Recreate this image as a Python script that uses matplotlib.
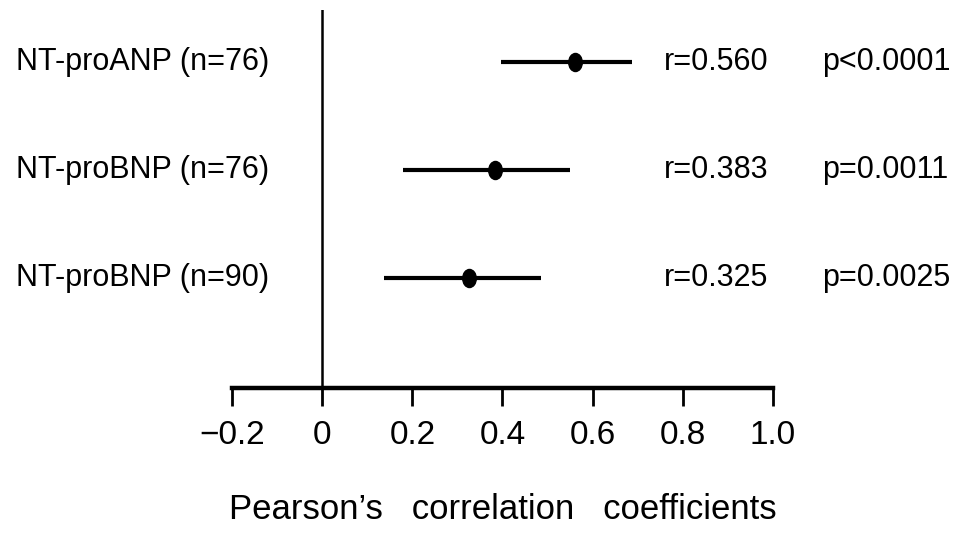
import matplotlib.pyplot as plt
from matplotlib.path import Path
from matplotlib.transforms import Affine2D

plt.rcParams['font.family'] = ['Liberation Sans', 'DejaVu Sans']

# Correlation estimates with 95% CI
labels = ["NT-proANP (n=76)", "NT-proBNP (n=76)", "NT-proBNP (n=90)"]
r_vals = [0.560, 0.383, 0.325]
ci_lo = [0.396, 0.180, 0.137]
ci_hi = [0.688, 0.550, 0.486]
p_text = ["p<0.0001", "p=0.0011", "p=0.0025"]
rows = [3, 2, 1]
xticks = [-0.2, 0, 0.2, 0.4, 0.6, 0.8, 1.0]
xtick_labels = ["\u22120.2", "0", "0.2", "0.4", "0.6", "0.8", "1.0"]

W, H = 954, 534
fig = plt.figure(figsize=(W / 100, H / 100), dpi=100, facecolor="white")
ax = fig.add_axes([232 / W, 1 - 388 / H, 541 / W, 378 / H])
ax.set_xlim(-0.2, 1.0)
ax.set_ylim(-0.02, 3.48)

# slightly tall dot
dot = Path.unit_circle().transformed(Affine2D().scale(0.75, 1.0))

ax.axvline(0, color="black", lw=1.8)
for y, lab, r, lo, hi, p in zip(rows, labels, r_vals, ci_lo, ci_hi, p_text):
    ax.plot([lo, hi], [y, y], color="black", lw=3, solid_capstyle="butt")
    ax.plot(r, y, marker=dot, ms=13, color="black")
    ax.text(-0.68, y, lab, fontsize=22, va="center", ha="left", clip_on=False)
    ax.text(0.757, y, f"r={r:.3f}", fontsize=22, va="center", ha="left", clip_on=False)
    ax.text(1.108, y, p, fontsize=22, va="center", ha="left", clip_on=False)

for s in ["top", "right", "left"]:
    ax.spines[s].set_visible(False)
ax.spines["bottom"].set_linewidth(3.2)
ax.set_yticks([])
ax.set_xticks(xticks)
ax.set_xticklabels(xtick_labels, fontsize=24)
ax.tick_params(axis="x", direction="out", length=13, width=2, pad=10)

ax.set_xlabel("Pearson\u2019s   correlation   coefficients", fontsize=25,
              labelpad=30)

fig.savefig("out.png", dpi=100, facecolor="white")
